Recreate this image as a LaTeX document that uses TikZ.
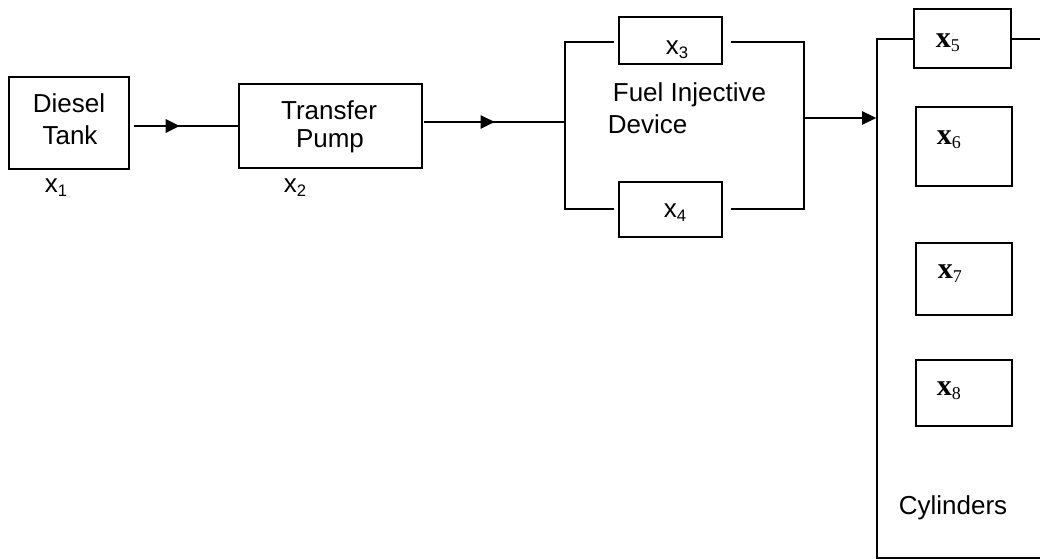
\documentclass[tikz,border=0pt]{standalone}
\usepackage{fontspec}
\newfontfamily\arialf{Liberation Sans}
\newfontfamily\tnrf{Liberation Serif}
\usetikzlibrary{arrows.meta,decorations.markings,fit}
\newcommand\xsans[1]{x\raisebox{-3pt}{\fontsize{12.5}{13}\selectfont #1}}
\newcommand\xserif[1]{{\bfseries x}\raisebox{-2.5pt}{\fontsize{13.5}{14}\selectfont #1}}
\begin{document}
\begin{tikzpicture}[x=0.75pt,y=-0.75pt,line width=1.3pt,
  box/.style={draw,inner sep=0pt,line width=1.3pt},
  wbox/.style={box,fill=white},
  txt/.style={inner sep=0pt,font=\arialf\fontsize{19.5}{22}\selectfont},
  stxt/.style={inner sep=0pt,font=\tnrf\fontsize{22.5}{24}\selectfont},
  midarrow/.style={postaction={decorate},decoration={markings,
     mark=at position #1 with {\arrow{Triangle[length=10.5pt,width=10pt]}}}},
  endarrow/.style={-{Triangle[length=10.5pt,width=10pt]}}]
\useasboundingbox (0,0) rectangle (1040,559);
\clip (0,0) rectangle (1040,559);

% boxes
\node[box,fit={(9,77) (129,169)}] (tank) {};
\node[box,fit={(239,84) (422,168)}] (pump) {};
\node[box,fit={(619,17) (722,64)}] (x3) {};
\node[box,fit={(619,182) (722,237)}] (x4) {};
\node[box,fit={(877,39) (1080,558)}] (cyl) {};
\node[wbox,fit={(914,9) (1011,68)}] (x5) {};
\node[box,fit={(916,107) (1012,186)}] (x6) {};
\node[box,fit={(916,243) (1012,315)}] (x7) {};
\node[box,fit={(916,360) (1012,426)}] (x8) {};

% texts
\node[txt,anchor=base] (t1a) at (69,113) {Diesel};
\node[txt,anchor=base] (t1b) at (70,145) {Tank};
\node[txt,anchor=base] (t2a) at (329,120) {Transfer};
\node[txt,anchor=base] (t2b) at (330,148) {Pump};
\node[txt,anchor=base west] (l1) at (44,193) {\xsans{1}};
\node[txt,anchor=base west] (l2) at (283,193) {\xsans{2}};
\node[txt,anchor=base west] (l3) at (665,55) {\xsans{3}};
\node[txt,anchor=base west] (l4) at (663,218) {\xsans{4}};
\node[txt,anchor=base west] (fid1) at (612,102) {Fuel Injective};
\node[txt,anchor=base west] (fid2) at (607,134) {Device};
\node[stxt,anchor=base west] (l5) at (935,48) {\xserif{5}};
\node[stxt,anchor=base west] (l6) at (936,145) {\xserif{6}};
\node[stxt,anchor=base west] (l7) at (937,279) {\xserif{7}};
\node[stxt,anchor=base west] (l8) at (936,396) {\xserif{8}};
\node[txt,anchor=base west] (cyltxt) at (898,515) {Cylinders};

% connectors
\coordinate (busin) at (565,122);
\coordinate (fltop) at (565,42);
\coordinate (flbot) at (565,209);
\coordinate (frtop) at (804,42);
\coordinate (frbot) at (804,209);
\coordinate (busout) at (804,118);

\draw[midarrow=0.44] ([xshift=3pt]tank.east |- pump.west) -- (pump.west);
\draw[midarrow=0.5] ([xshift=1pt]pump.east |- busin) -- (busin);
\draw ([xshift=-3pt]x3.west |- fltop) -- (fltop) -- (flbot) -- ([xshift=-3pt]x4.west |- flbot);
\draw ([xshift=6pt]x3.east |- frtop) -- (frtop) -- (frbot) -- ([xshift=6pt]x4.east |- frbot);
\draw[endarrow] (busout) -- (busout -| cyl.west);
\end{tikzpicture}
\end{document}
